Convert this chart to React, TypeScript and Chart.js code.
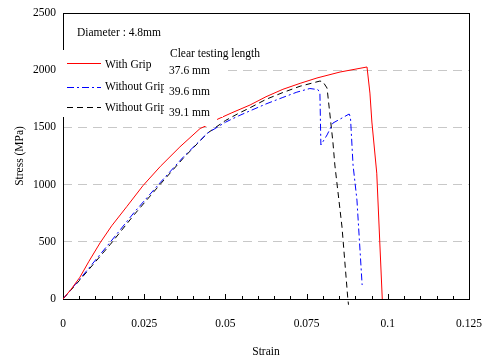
import React, { useEffect, useRef } from 'react';
import { Chart, registerables } from 'chart.js';

Chart.register(...registerables);

// ---- data ----
const redStrain = [0, 0.0025, 0.0052, 0.008, 0.0114, 0.015, 0.0197, 0.0246, 0.03, 0.036, 0.0422, 0.0453, 0.0477, 0.052, 0.0576, 0.0625, 0.0677, 0.073, 0.0782, 0.0853, 0.0936, 0.0945, 0.0951, 0.0966, 0.0983];
const redStress = [0, 85, 190, 330, 490, 640, 810, 990, 1160, 1330, 1490, 1530, 1573, 1628, 1696, 1768, 1833, 1885, 1932, 1984, 2028, 1800, 1547, 1100, 0];

const blueStrain = [0, 0.005, 0.0145, 0.022, 0.03, 0.037, 0.0445, 0.05, 0.054, 0.0576, 0.0625, 0.0677, 0.072, 0.076, 0.0785, 0.0791, 0.0794, 0.0813, 0.0831, 0.0859, 0.0881, 0.0885, 0.0893, 0.0905, 0.0921];
const blueStress = [0, 168, 495, 760, 1020, 1240, 1450, 1545, 1600, 1645, 1705, 1762, 1808, 1840, 1830, 1800, 1346, 1434, 1538, 1582, 1617, 1590, 1171, 865, 122];

const blackStrain = [0, 0.005, 0.0145, 0.022, 0.03, 0.037, 0.0445, 0.05, 0.054, 0.0576, 0.0625, 0.0677, 0.073, 0.0791, 0.08, 0.0813, 0.0822, 0.0831, 0.0837, 0.0859, 0.0877, 0.0879];
const blackStress = [0, 160, 475, 740, 1005, 1230, 1450, 1560, 1622, 1672, 1745, 1805, 1860, 1905, 1900, 1844, 1608, 1372, 1171, 629, 0, -50];

const xTickLabels = ['0', '0.025', '0.05', '0.075', '0.1', '0.125'];
const legendLabels = ['With Grip', 'Without Grip', 'Without Grip'];
const lengthHeader = 'Clear testing length';
const lengthLabels = ['37.6 mm', '39.6 mm', '39.1 mm'];
const diameterLabel = 'Diameter : 4.8mm';
const xTitle = 'Strain';
const yTitle = 'Stress (MPa)';

const seriesColors = ['#ff0000', '#0000ff', '#000000'];
const seriesDashes: number[][] = [[], [7, 3, 2, 3], [6, 4]];

const FAMILY = '"Liberation Serif", "Times New Roman", serif';
const FONT = `11.5px ${FAMILY}`;

const toPoints = (xs: number[], ys: number[]) => xs.map((x, i) => ({ x, y: ys[i] }));

const overlayPlugin = {
  id: 'overlay',
  beforeDatasetsDraw(chart: any) {
    const { ctx, chartArea: a, scales } = chart;
    ctx.save();
    ctx.strokeStyle = '#000';
    ctx.lineWidth = 1;
    ctx.setLineDash([]);
    ctx.strokeRect(a.left + 0.5, a.top + 0.5, a.right - a.left, a.bottom - a.top);
    const xs = scales.x;
    xs.ticks.forEach((t: any, i: number) => {
      const px = Math.round(xs.getPixelForValue(t.value)) + 0.5;
      const len = i % 5 === 0 ? 5 : 3;
      ctx.beginPath();
      ctx.moveTo(px, a.bottom);
      ctx.lineTo(px, a.bottom - len);
      ctx.stroke();
    });
    ctx.restore();
  },
  afterDatasetsDraw(chart: any) {
    const { ctx } = chart;
    ctx.save();
    ctx.fillStyle = '#fff';
    ctx.fillRect(60, 50, 163, 67);
    ctx.font = FONT;
    ctx.textBaseline = 'middle';
    ctx.textAlign = 'left';
    ctx.fillStyle = '#000';
    ctx.fillText(diameterLabel, 77, 33);
    const lineYs = [63.5, 87.5, 107.5];
    const textYs = [65, 87, 108];
    for (let i = 0; i < 3; i++) {
      ctx.strokeStyle = seriesColors[i];
      ctx.lineWidth = 1;
      ctx.setLineDash(seriesDashes[i]);
      ctx.beginPath();
      ctx.moveTo(67, lineYs[i]);
      ctx.lineTo(101, lineYs[i]);
      ctx.stroke();
      ctx.fillStyle = '#000';
      ctx.fillText(legendLabels[i], 105, textYs[i]);
    }
    ctx.setLineDash([]);
    ctx.fillStyle = '#fff';
    ctx.fillRect(164, 42, 53, 84);
    ctx.fillStyle = '#000';
    ctx.fillText(lengthHeader, 170, 54);
    const lenYs = [71, 92, 113];
    for (let i = 0; i < 3; i++) ctx.fillText(lengthLabels[i], 169, lenYs[i]);
    ctx.restore();
  },
};

export default function App() {
  const ref = useRef<HTMLCanvasElement | null>(null);
  useEffect(() => {
    if (!ref.current) return;
    const chart = new Chart(ref.current, {
      type: 'line',
      data: {
        datasets: [
          { label: legendLabels[0], data: toPoints(redStrain, redStress) },
          { label: legendLabels[1], data: toPoints(blueStrain, blueStress) },
          { label: legendLabels[2], data: toPoints(blackStrain, blackStress), clip: { left: 0, top: 0, right: 0, bottom: 8 } },
        ].map((d, i) => ({
          ...d,
          borderColor: seriesColors[i],
          backgroundColor: seriesColors[i],
          borderWidth: 1,
          borderDash: seriesDashes[i],
          pointRadius: 0,
          tension: 0,
          fill: false,
        })),
      },
      options: {
        responsive: false,
        animation: false,
        events: [],
        layout: { padding: { top: 13, right: 23, left: 0, bottom: 0 } },
        plugins: { legend: { display: false }, tooltip: { enabled: false } },
        scales: {
          x: {
            type: 'linear',
            min: 0,
            max: 0.125,
            afterFit: (s: any) => { s.height = 61; s.paddingLeft = 0; s.paddingRight = 0; },
            ticks: {
              stepSize: 0.005,
              autoSkip: false,
              maxRotation: 0,
              padding: 18,
              color: '#000',
              font: { family: FAMILY, size: 11.5 },
              callback: (_v: any, i: number) => (i % 5 === 0 ? xTickLabels[i / 5] : ''),
            },
            grid: { display: false, drawTicks: false },
            border: { display: false },
            title: {
              display: true,
              text: xTitle,
              color: '#000',
              font: { family: FAMILY, size: 11.5 },
              padding: { top: 0, bottom: 1 },
            },
          },
          y: {
            min: 0,
            max: 2500,
            afterFit: (s: any) => { s.width = 63; s.paddingTop = 0; s.paddingBottom = 0; },
            ticks: {
              stepSize: 500,
              padding: 7,
              color: '#000',
              font: { family: FAMILY, size: 11.5 },
              callback: (v: any) => String(v),
            },
            grid: {
              drawTicks: false,
              lineWidth: 1,
              color: (c: any) => (c.tick && (c.tick.value === 0 || c.tick.value === 2500) ? 'rgba(0,0,0,0)' : '#c8c8c8'),
            },
            border: { display: false, dash: [9, 6] },
            title: {
              display: true,
              text: yTitle,
              color: '#000',
              font: { family: FAMILY, size: 11.5 },
              padding: { top: 13, bottom: 0 },
            },
          },
        },
      },
      plugins: [overlayPlugin],
    } as any);
    return () => chart.destroy();
  }, []);
  return (
    <div style={{ position: 'fixed', left: 0, top: 0, width: 492, height: 360, background: '#fff' }}>
      <canvas ref={ref} width={492} height={360} style={{ display: 'block' }} />
    </div>
  );
}
